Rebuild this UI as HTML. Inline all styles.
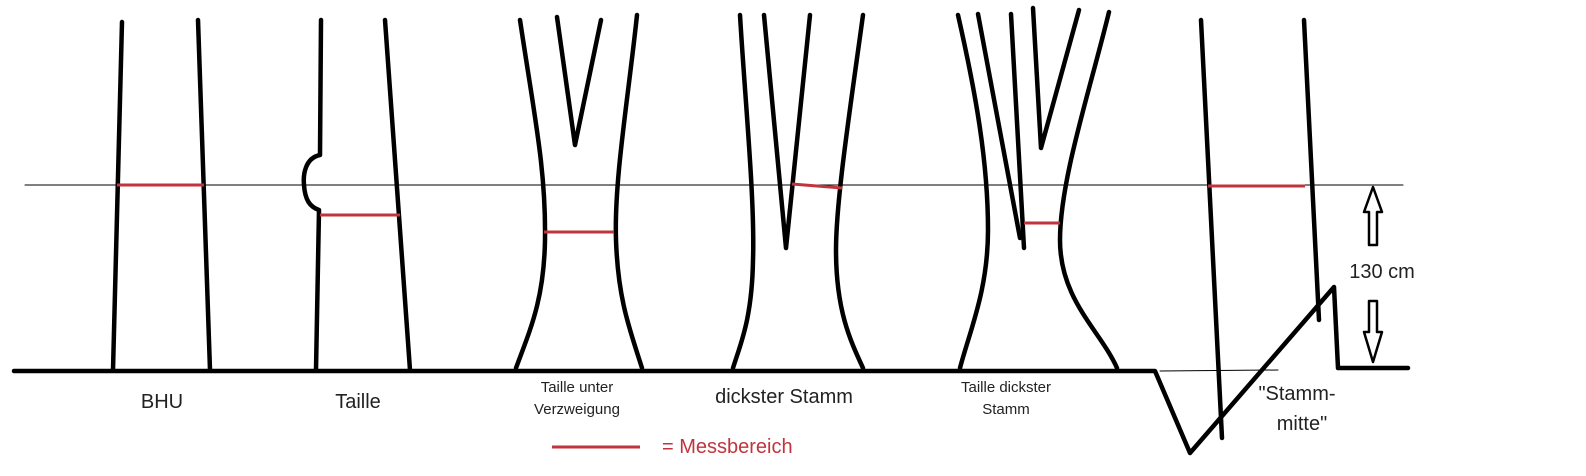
<!DOCTYPE html>
<html><head><meta charset="utf-8"><style>
html,body{margin:0;padding:0;background:#fff;}
svg{display:block;}
text{font-family:"Liberation Sans",sans-serif;}
</style></head><body>
<svg width="1586" height="476" viewBox="0 0 1586 476" xmlns="http://www.w3.org/2000/svg">
<g fill="none" stroke="#000" stroke-linecap="round" stroke-linejoin="round">
<line x1="25" y1="185" x2="1403" y2="185" stroke-width="1"/>
<line x1="1160" y1="371" x2="1278" y2="370" stroke-width="1"/>
<polyline points="14,371 1155,371 1190,453 1334,287 1338,368 1408,368" stroke-width="4.5"/>
<line x1="122" y1="22" x2="113" y2="370" stroke-width="4.5"/>
<line x1="198" y1="20" x2="210" y2="370" stroke-width="4.5"/>
<path d="M321,20 L320,155 C305,158 303,175 304,185 C305,200 310,207 319,210 L316,370" stroke-width="4.5"/>
<line x1="385" y1="20" x2="410" y2="370" stroke-width="4.5"/>
<path d="M520,20 C535,120 546,170 545,240 C544,300 530,330 516,368" stroke-width="4.5"/>
<path d="M557,17 L575,145 L601,20" stroke-width="4.5"/>
<path d="M637,15 C628,100 614,180 616,240 C618,300 630,330 642,368" stroke-width="4.5"/>
<path d="M740,15 C745,100 755,200 753,260 C752,320 740,345 733,368" stroke-width="4.5"/>
<path d="M764,15 L786,248 L810,15" stroke-width="4.5"/>
<path d="M863,15 C850,110 836,200 836,250 C836,310 850,340 863,368" stroke-width="4.5"/>
<path d="M958,15 C975,90 988,160 988,230 C988,290 970,330 960,368" stroke-width="4.5"/>
<path d="M978,14 L1020,238" stroke-width="4.5"/>
<path d="M1011,14 L1024,248" stroke-width="4.5"/>
<path d="M1033,8 L1041,148 L1079,10" stroke-width="4.5"/>
<path d="M1109,12 C1090,90 1060,180 1060,240 C1060,300 1100,330 1117,368" stroke-width="4.5"/>
<line x1="1201" y1="20" x2="1222" y2="438" stroke-width="4.5"/>
<line x1="1304" y1="20" x2="1319" y2="320" stroke-width="4.5"/>
<polygon points="1373,187 1364,212 1369,212 1369,245 1377,245 1377,212 1382,212" stroke-width="2.5"/>
<polygon points="1369,301 1377,301 1377,332 1382,332 1373,362 1364,332 1369,332" stroke-width="2.5"/>
</g>
<g stroke="#c0353d" stroke-width="3">
<line x1="117" y1="185" x2="204" y2="185"/>
<line x1="320" y1="215" x2="400" y2="215"/>
<line x1="544" y1="232" x2="614" y2="232"/>
<line x1="792" y1="184" x2="842" y2="188"/>
<line x1="1024" y1="223" x2="1060" y2="223"/>
<line x1="1208" y1="186" x2="1305" y2="186"/>
<line x1="552" y1="447" x2="640" y2="447"/>
</g>
<g fill="#222" text-anchor="middle">
<text x="162" y="408" font-size="20">BHU</text>
<text x="358" y="408" font-size="20">Taille</text>
<text x="577" y="392" font-size="15">Taille unter</text>
<text x="577" y="414" font-size="15">Verzweigung</text>
<text x="784" y="403" font-size="20">dickster Stamm</text>
<text x="1006" y="392" font-size="15">Taille dickster</text>
<text x="1006" y="414" font-size="15">Stamm</text>
<text x="1297" y="400" font-size="20">"Stamm-</text>
<text x="1302" y="430" font-size="20">mitte"</text>
<text x="1382" y="278" font-size="20">130 cm</text>
</g>
<text x="662" y="453" font-size="20" fill="#c0353d">= Messbereich</text>
</svg>
</body></html>
